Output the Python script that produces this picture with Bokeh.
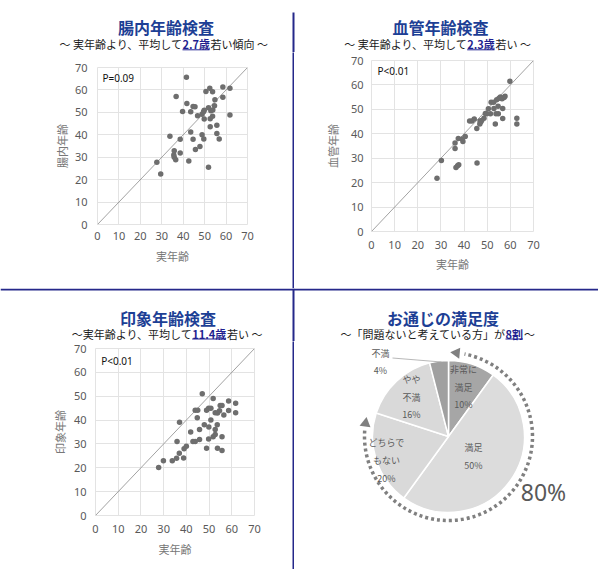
import numpy as np
from bokeh.plotting import figure
from bokeh.layouts import row, column
from bokeh.models import Range1d, FixedTicker
from bokeh.core.properties import value
from bokeh.embed import file_html
from bokeh.resources import INLINE

# ---------------- data ----------------
axis_ticks = [0, 10, 20, 30, 40, 50, 60, 70]

gut_real = [27.7, 29.5, 33.8, 35.8, 35.6, 35.8, 36.5, 36.7, 38.6, 38.6, 39.7, 41.5, 41.7, 42.6,
            43.5, 43.5, 44.6, 45.5, 44.6, 45.7, 46.7, 47.8, 48.8, 48.8, 49.5, 49.8, 49.8, 49.6,
            50.6, 51.8, 51.8, 52.4, 52.6, 52.6, 52.9, 53.7, 53.8, 53.7, 54.6, 54.8, 55.7, 55.7,
            56.8, 58.5, 58.5, 61.8, 61.8]
gut_age = [27.7, 22.5, 39.4, 32.9, 31.0, 30.0, 28.9, 57.1, 38.0, 31.9, 50.4, 65.7, 54.0, 28.3,
           41.2, 50.3, 52.6, 52.5, 38.0, 33.4, 48.5, 34.8, 40.0, 49.2, 50.3, 50.9, 47.0, 38.1,
           59.3, 25.5, 52.1, 60.8, 43.6, 47.1, 50.7, 59.2, 51.0, 48.3, 53.0, 55.6, 44.2, 40.6,
           38.1, 61.3, 56.7, 60.7, 48.8]

vessel_real = [28.3, 30.2, 36.1, 36.1, 36.5, 37.2, 37.7, 37.5, 39.2, 39.5, 40.5, 42.4, 43.4, 44.4,
               45.5, 45.6, 46.8, 46.9, 47.6, 48.6, 49.8, 50.5, 51.4, 51.7, 52.8, 52.9, 53.5, 53.8,
               54.1, 54.7, 54.8, 55.1, 55.7, 56.4, 56.7, 56.7, 57.3, 57.7, 59.8, 62.8, 62.8, 47.2,
               49.2]
vessel_age = [21.8, 29.1, 36.2, 34.0, 26.2, 26.9, 27.3, 38.1, 37.9, 36.8, 38.9, 45.2, 45.2, 46.1,
              42.2, 28.0, 44.0, 45.2, 45.4, 46.4, 48.2, 50.2, 48.2, 52.9, 52.9, 50.3, 44.0, 48.2,
              53.9, 51.3, 48.2, 54.5, 55.1, 54.3, 50.3, 46.3, 54.9, 55.4, 61.5, 46.4, 44.0, 44.8,
              48.3]

impression_real = [27.8, 29.9, 33.8, 35.7, 35.9, 36.9, 37.0, 38.8, 39.0, 40.0, 41.9, 42.9, 43.9, 43.9,
                   45.0, 44.8, 45.8, 45.8, 47.0, 47.9, 48.9, 48.9, 49.8, 49.8, 49.9, 50.8, 50.8, 51.8,
                   51.8, 52.7, 52.7, 52.7, 53.6, 53.7, 53.7, 54.6, 54.9, 55.7, 55.7, 55.7, 56.5, 58.6,
                   58.6, 61.7, 61.7]
impression_age = [20.1, 23.0, 23.0, 24.0, 31.0, 26.1, 39.1, 24.1, 28.0, 29.0, 35.0, 31.0, 31.0, 44.1,
                  44.1, 41.0, 31.9, 36.0, 51.0, 38.0, 44.1, 28.2, 32.1, 45.0, 37.1, 45.0, 40.0, 49.0,
                  33.0, 34.0, 43.1, 36.1, 38.0, 43.0, 28.2, 43.9, 46.1, 46.1, 33.0, 27.2, 42.1, 48.0,
                  44.0, 47.1, 43.1]

satisfaction_labels = ["非常に\n満足", "満足", "どちらで\nもない", "やや\n不満", "不満"]
satisfaction_pct = [10, 50, 20, 16, 4]
satisfaction_colors = ["#a6a6a6", "#dcdcdc", "#d9d9d9", "#d9d9d9", "#a0a0a0"]
satisfied_groups = 3  # first three categories form the "8割"

# ---------------- styles ----------------
JP = "Noto Sans CJK JP"
NUM = "Noto Sans"
TITLE_C = "#1d3f95"
HL_C = "#1f1f8f"
DIV_C = "#25288a"
TXT = "#1a1a1a"


def pixel_fig(width, height, x0, y0, fill="white"):
    """figure whose data units equal page pixels (y negated)"""
    p = figure(width=width, height=height,
               x_range=Range1d(x0, x0 + width), y_range=Range1d(-(y0 + height), -y0),
               toolbar_location=None, output_backend="svg",
               x_axis_type=None, y_axis_type=None,
               min_border=0, min_border_left=0, min_border_right=0,
               min_border_top=0, min_border_bottom=0)
    p.outline_line_color = None
    p.background_fill_color = fill
    p.border_fill_color = fill
    return p


def jtext(p, x, y, t, size, color=TXT, align="center", bold=False, font=JP, lh=1.2):
    p.text(x=[x], y=[-y], text=[t], text_align=align, text_baseline="middle",
           text_font=value(font), text_font_size=size, text_color=color,
           text_font_style="bold" if bold else "normal", text_line_height=lh)


def header(p, title, tx, ty, sy, pre, hl, post, hl_x0, hl_x1, ul=6):
    jtext(p, tx, ty, title, "16px", TITLE_C, bold=True)
    jtext(p, hl_x0, sy, pre, "11px", TXT, align="right")
    jtext(p, hl_x0, sy, hl, "11px", HL_C, align="left", bold=True)
    jtext(p, hl_x1, sy, post, "11px", TXT, align="left")
    p.segment(x0=[hl_x0], y0=[-(sy + ul)], x1=[hl_x1 - 1], y1=[-(sy + ul)],
              line_color=HL_C, line_width=1)


def scatter_fig(width, height, left, fw, top, fh, xs, ys, ylabel, ptext, ptx, pty,
                y_stand, y_lab_stand, x_stand, x_lab_stand):
    right = width - left - fw
    bottom = height - top - fh
    p = figure(width=width, height=height,
               x_range=Range1d(axis_ticks[0], axis_ticks[-1]),
               y_range=Range1d(axis_ticks[0], axis_ticks[-1]),
               toolbar_location=None, output_backend="svg",
               min_border_left=left, min_border_right=right,
               min_border_top=top, min_border_bottom=bottom)
    p.xaxis.ticker = FixedTicker(ticks=axis_ticks)
    p.yaxis.ticker = FixedTicker(ticks=axis_ticks)
    p.xaxis.axis_label = "実年齢"
    p.yaxis.axis_label = ylabel
    for ax in p.axis:
        ax.axis_line_color = None
        ax.major_tick_line_color = None
        ax.minor_tick_line_color = None
        ax.major_tick_out = 0
        ax.major_tick_in = 0
        ax.major_label_text_font = NUM
        ax.major_label_text_font_size = "11px"
        ax.major_label_text_color = "#595959"
        ax.axis_label_text_font = JP
        ax.axis_label_text_font_size = "11px"
        ax.axis_label_text_color = "#777777"
        ax.axis_label_text_font_style = "normal"
    p.yaxis.major_label_standoff = y_stand
    p.yaxis.axis_label_standoff = y_lab_stand
    p.xaxis.major_label_standoff = x_stand
    p.xaxis.axis_label_standoff = x_lab_stand
    p.grid.grid_line_color = "#e3e3e3"
    p.outline_line_color = "#e3e3e3"
    p.background_fill_color = "white"
    p.border_fill_color = "white"
    lo, hi = axis_ticks[0], axis_ticks[-1]
    p.line(x=[lo, hi], y=[lo, hi], line_color="#8a8a8a", line_width=0.8)
    p.scatter(x=xs, y=ys, size=5.5, fill_color="#6e6e6e", line_color=None)
    p.text(x=[ptx], y=[pty], text=[ptext], text_align="left", text_baseline="middle",
           text_font=value(NUM), text_font_size="10px", text_color="#111111")
    return p


# ---------------- header strips (titles + subtitles + divider pieces) ----------------
hdr_top = pixel_fig(598, 52, 0, 0)
hdr_top.quad(left=[292], right=[294], top=[-12], bottom=[-52], fill_color=DIV_C, line_color=None)
header(hdr_top, "腸内年齢検査", 165.5, 26, 43.3,
       "～ 実年齢より、平均して", "2.7歳", "若い傾向 ～", 182, 210)
header(hdr_top, "血管年齢検査", 440, 26, 43.3,
       "～ 実年齢より、平均して", "2.3歳", "若い ～", 466.7, 495)

hdr_bot = pixel_fig(598, 53, 0, 288)
hdr_bot.quad(left=[0], right=[598], top=[-288], bottom=[-290], fill_color=DIV_C, line_color=None)
hdr_bot.quad(left=[292], right=[294], top=[-288], bottom=[-341], fill_color=DIV_C, line_color=None)
header(hdr_bot, "印象年齢検査", 167.5, 317.5, 333.5,
       "～実年齢より、平均して", "11.4歳", "若い ～", 191.7, 226.5, ul=5)
header(hdr_bot, "お通じの満足度", 442.5, 317.5, 333.5,
       "～「問題ないと考えている方」が", "8割", " ～", 505, 523.5, ul=5)

# ---------------- scatter charts ----------------
f1 = scatter_fig(292, 236, 97, 150, 15, 157, gut_real, gut_age, "腸内年齢",
                 "P=0.09", 2.3, 65.2, 10, 2, 7, 5)
f2 = scatter_fig(304, 236, 77, 162, 8, 171, vessel_real, vessel_age, "血管年齢",
                 "P<0.01", 2.6, 65.5, 8, 7, 9, 4)
f3 = scatter_fig(292, 228, 95, 159, 7, 167, impression_real, impression_age, "印象年齢",
                 "P<0.01", 2.5, 64.8, 9, 3, 9, 5)

# ---------------- pie ----------------
f4 = pixel_fig(304, 228, 294, 341)
cx, cy, r = 448, 436, 76
frac = np.array(satisfaction_pct, dtype=float) / sum(satisfaction_pct)
cum = np.concatenate([[0.0], np.cumsum(frac)])
start = np.pi / 2 - 2 * np.pi * cum[1:]
end = np.pi / 2 - 2 * np.pi * cum[:-1]
f4.wedge(x=[cx] * len(frac), y=[-cy] * len(frac), radius=r,
         start_angle=list(start), end_angle=list(end), direction="anticlock",
         fill_color=satisfaction_colors, line_color="white", line_width=1.5)

# dotted arc around the satisfied share (0 -> 80%)
ar = 84
sat_share = cum[satisfied_groups]
arc_start_cw = np.deg2rad(11)
arc_end_cw = 2 * np.pi * sat_share - np.deg2rad(14)
f4.arc(x=[cx], y=[-cy], radius=ar,
       start_angle=np.pi / 2 - arc_end_cw, end_angle=np.pi / 2 - arc_start_cw,
       direction="anticlock", line_color="#808080", line_width=3.5, line_dash="3 3")
# arrowheads
a_top = np.deg2rad(5.5)
a_left = 2 * np.pi * sat_share - np.deg2rad(9)
th_top = np.pi / 2 - a_top
th_left = np.pi / 2 - a_left
f4.scatter(x=[cx + ar * np.cos(th_top), cx + ar * np.cos(th_left)],
           y=[-cy + ar * np.sin(th_top), -cy + ar * np.sin(th_left)],
           marker="triangle", size=11, angle=[th_top, th_left - np.pi],
           fill_color="#808080", line_color=None)

# slice labels
label_pos = [(463, 386.7), (473, 456), (386, 460), (411, 396.7), (380, 361.5)]
for lab, pct, (lx, ly) in zip(satisfaction_labels, satisfaction_pct, label_pos):
    jtext(f4, lx, ly, f"{lab}\n{pct}%", "9px", "#5a5a5a", lh=1.35)
f4.line(x=[392, 441], y=[-357.5, -361.5], line_color="#a6a6a6", line_width=0.8)

jtext(f4, 543, 491.5, f"{int(round(sat_share * 100))}%", "23px", "#595959", font=NUM)

# ---------------- vertical dividers ----------------
v_top = pixel_fig(2, 236, 292, 52, fill=DIV_C)
v_bot = pixel_fig(2, 228, 292, 341, fill=DIV_C)

top_row = row(column(f1), column(v_top), column(f2))
bottom_row = row(column(f3), column(v_bot), column(f4))
page = column(hdr_top, top_row, hdr_bot, bottom_row)

open("out.html", "w").write(file_html(page, INLINE))
